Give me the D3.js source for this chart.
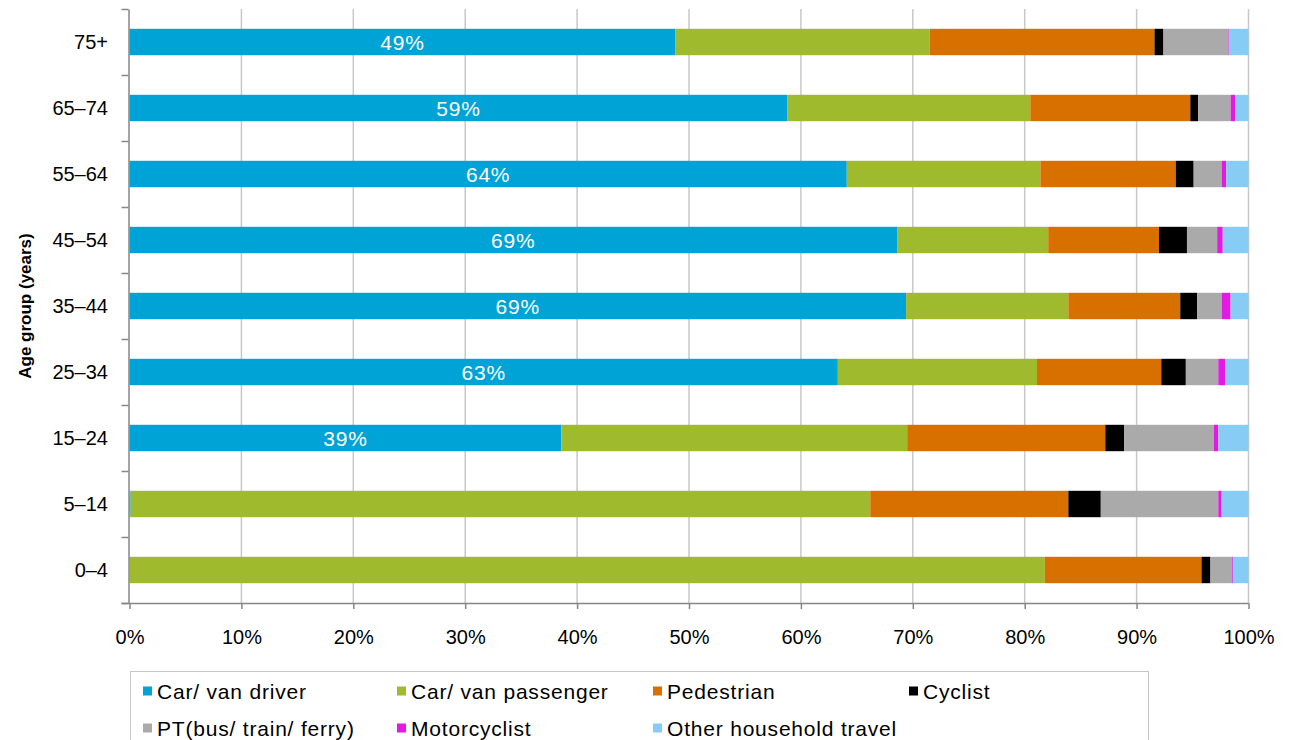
<!DOCTYPE html>
<html>
<head>
<meta charset="utf-8">
<script src="https://cdn.jsdelivr.net/npm/d3@7/dist/d3.min.js"></script>
<style>
  html, body { margin: 0; padding: 0; background: #fff; }
  svg { display: block; font-family: "Liberation Sans", Arial, sans-serif; }
</style>
</head>
<body>
<svg id="chart" width="1290" height="740"></svg>
<script>
// Age groups, top to bottom
const ageGroups = ["75+", "65–74", "55–64", "45–54", "35–44", "25–34", "15–24", "5–14", "0–4"];

// Share of trips (%) by mode for each age group
const carDriver    = [48.8, 58.8, 64.1, 68.6, 69.4, 63.3, 38.6, 0.1, 0];
const carPassenger = [22.7, 21.7, 17.3, 13.5, 14.5, 17.8, 30.9, 66.1, 81.8];
const pedestrian   = [20.1, 14.3, 12.1, 9.9, 10.0, 11.1, 17.7, 17.7, 14.0];
const cyclist      = [0.8, 0.7, 1.6, 2.5, 1.5, 2.2, 1.7, 2.9, 0.8];
const publicTransport = [5.8, 2.9, 2.5, 2.7, 2.2, 2.9, 8.0, 10.5, 1.9];
const motorcyclist = [0.05, 0.4, 0.4, 0.5, 0.8, 0.6, 0.4, 0.3, 0.1];
const otherTravel  = [1.75, 1.2, 2.0, 2.3, 1.6, 2.1, 2.7, 2.4, 1.4];

const seriesNames = ["Car/ van driver", "Car/ van passenger", "Pedestrian", "Cyclist",
                     "PT(bus/ train/ ferry)", "Motorcyclist", "Other household  travel"];
const seriesValues = [carDriver, carPassenger, pedestrian, cyclist, publicTransport, motorcyclist, otherTravel];
const seriesColors = ["#00A3D6", "#A0BA2E", "#D87000", "#000000", "#AAAAAA", "#E31AE3", "#87CCF5"];

const xTicks = [0, 10, 20, 30, 40, 50, 60, 70, 80, 90, 100];

// Rows for the stack layout
const rows = ageGroups.map((g, i) => {
  const r = { group: g };
  seriesNames.forEach((s, k) => { r[s] = seriesValues[k][i]; });
  return r;
});

const svg = d3.select("#chart");
const plotLeft = 129.5, plotRight = 1248.5, plotTop = 9, plotBottom = 603;

const x = d3.scaleLinear().domain([0, 100]).range([plotLeft, plotRight]);
const y = d3.scaleBand().domain(ageGroups).range([plotTop, plotBottom]).paddingInner(0.6).paddingOuter(0.3);
const color = d3.scaleOrdinal().domain(seriesNames).range(seriesColors);

// Vertical gridlines
svg.append("g")
  .selectAll("line")
  .data(xTicks.filter(t => t > 0))
  .join("line")
  .attr("x1", d => x(d)).attr("x2", d => x(d))
  .attr("y1", plotTop).attr("y2", plotBottom)
  .attr("stroke", "#c8c8c8").attr("stroke-width", 1.5);

// Stacked bars
const stacked = d3.stack().keys(seriesNames)(rows);
svg.append("g")
  .selectAll("g")
  .data(stacked)
  .join("g")
  .attr("fill", d => color(d.key))
  .selectAll("rect")
  .data(d => d)
  .join("rect")
  .attr("x", d => x(d[0]))
  .attr("y", d => y(d.data.group))
  .attr("width", d => Math.max(0, x(d[1]) - x(d[0])))
  .attr("height", y.bandwidth());

// Value labels on the driver segments
svg.append("g")
  .selectAll("text")
  .data(rows.filter(r => r[seriesNames[0]] >= 10))
  .join("text")
  .attr("x", d => (x(0) + x(d[seriesNames[0]])) / 2)
  .attr("y", d => y(d.group) + y.bandwidth() / 2)
  .attr("dy", "0.36em")
  .attr("text-anchor", "middle")
  .attr("fill", "#fff")
  .attr("font-size", 21)
  .attr("letter-spacing", 0.8)
  .text(d => Math.round(d[seriesNames[0]]) + "%");

// X axis
const xAxis = svg.append("g")
  .attr("transform", `translate(0,${plotBottom})`)
  .call(d3.axisBottom(x).tickValues(xTicks).tickFormat(d => d + "%").tickSize(6).tickSizeOuter(0));
xAxis.select(".domain").attr("stroke", "#868686").attr("stroke-width", 1.5)
  .attr("d", `M${plotLeft - 8},0.5H${plotRight}`);
xAxis.selectAll(".tick line").attr("stroke", "#868686").attr("stroke-width", 1.5);
xAxis.selectAll(".tick text").attr("font-size", 20).attr("fill", "#000").attr("dy", "1.6em")
  .attr("font-family", "'Liberation Sans', Arial, sans-serif");

// Y axis: ticks sit between the categories
const yEdges = d3.scaleLinear().domain([0, ageGroups.length]).range([plotTop, plotBottom]);
const yAxis = svg.append("g")
  .attr("transform", `translate(${plotLeft - 1},0)`)
  .call(d3.axisLeft(yEdges).tickValues(d3.range(ageGroups.length + 1)).tickFormat("").tickSize(7).tickSizeOuter(0));
yAxis.select(".domain").attr("stroke", "#868686").attr("stroke-width", 1.5);
yAxis.selectAll(".tick line").attr("stroke", "#868686").attr("stroke-width", 1.5);

// Category labels
svg.append("g")
  .selectAll("text")
  .data(ageGroups)
  .join("text")
  .attr("x", 108)
  .attr("y", d => y(d) + y.bandwidth() / 2)
  .attr("dy", "0.36em")
  .attr("text-anchor", "end")
  .attr("font-size", 20)
  .attr("fill", "#000")
  .text(d => d);

// Y axis title
svg.append("text")
  .attr("transform", `translate(31,${(plotTop + plotBottom) / 2}) rotate(-90)`)
  .attr("text-anchor", "middle")
  .attr("font-size", 17)
  .attr("font-weight", "bold")
  .text("Age group (years)");

// Legend
const legend = svg.append("g");
legend.append("rect")
  .attr("x", 130.5).attr("y", 671.5)
  .attr("width", 1018).attr("height", 90)
  .attr("fill", "none").attr("stroke", "#c8c8c8").attr("stroke-width", 1);

const legendCols = [143, 397, 653, 909];
const legendRows = [691, 728];
const legendItems = legend.selectAll("g")
  .data(seriesNames)
  .join("g")
  .attr("transform", (d, i) => `translate(${legendCols[i % 4]},${legendRows[Math.floor(i / 4)]})`);
legendItems.append("rect")
  .attr("x", 0).attr("y", -4.5).attr("width", 9).attr("height", 9)
  .attr("fill", d => color(d));
legendItems.append("text")
  .attr("x", 14).attr("y", 0).attr("dy", "0.36em")
  .attr("font-size", 21)
  .attr("letter-spacing", 0.8)
  .text(d => d);
</script>
</body>
</html>
